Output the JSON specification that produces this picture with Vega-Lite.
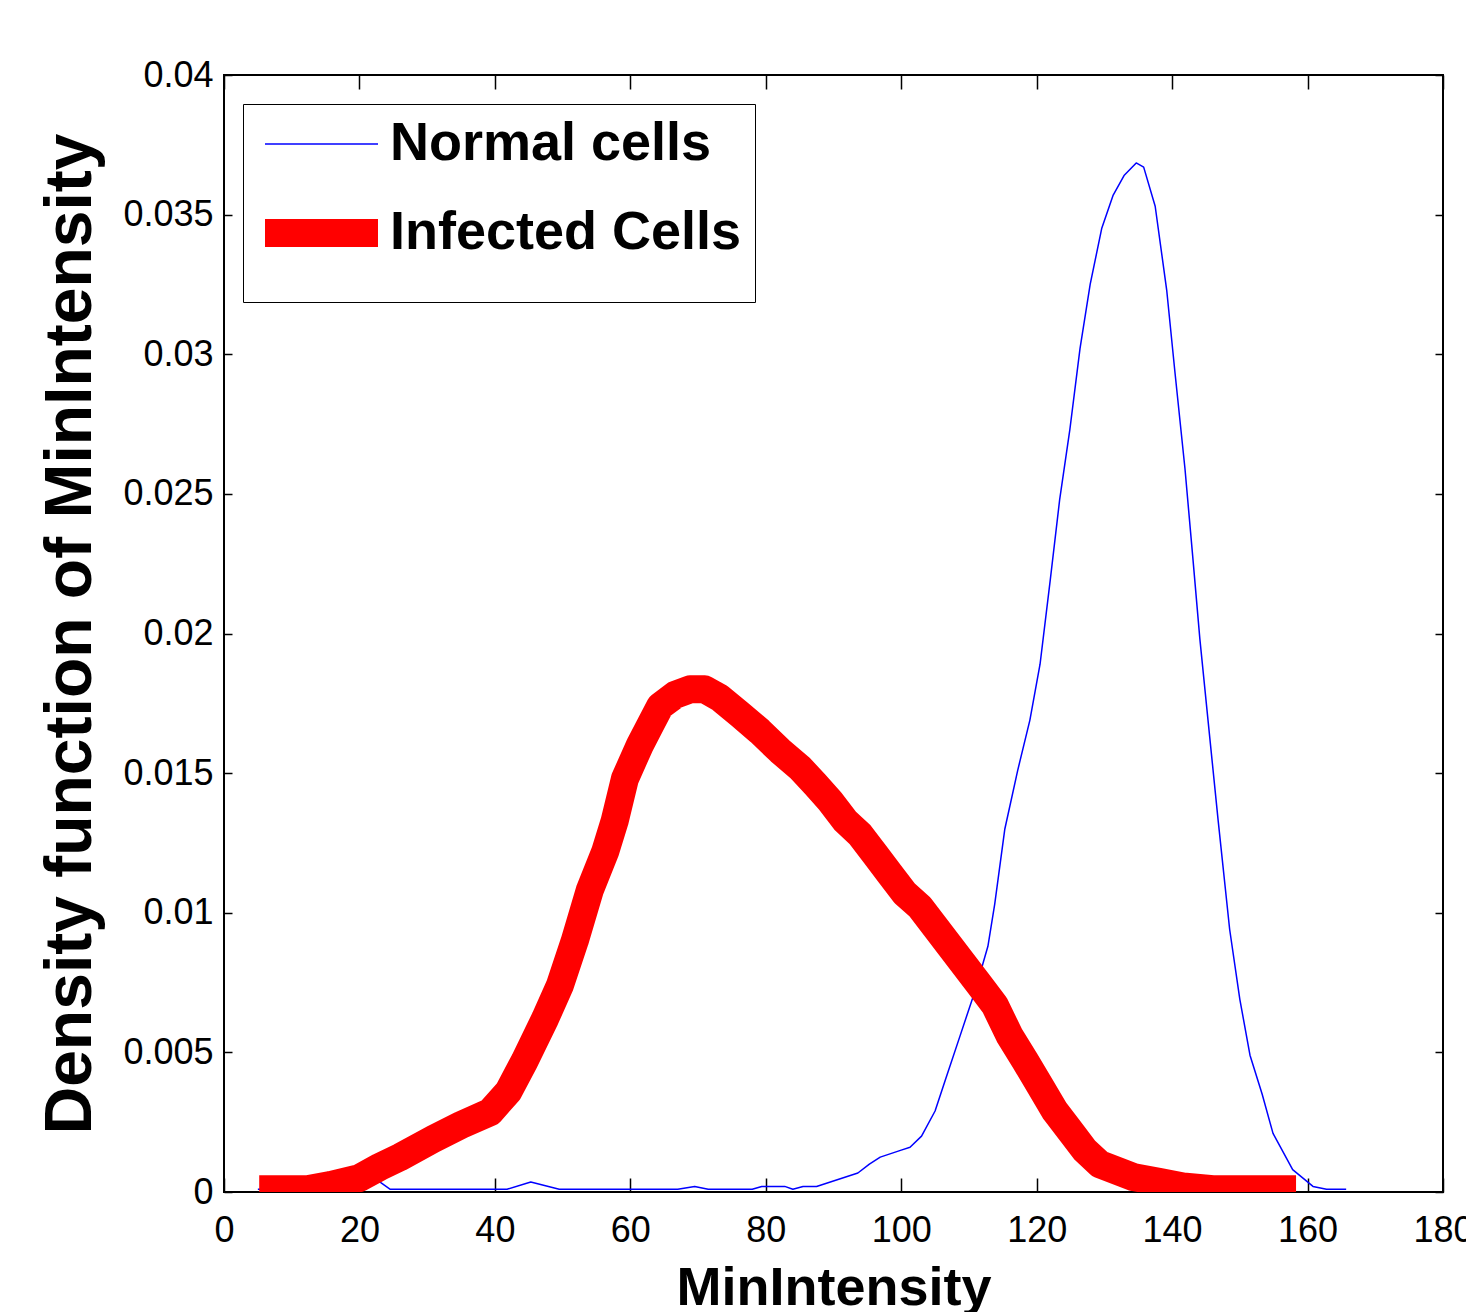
{
  "$schema": "https://vega.github.io/schema/vega-lite/v6.json",
  "width": 1219,
  "height": 1117,
  "autosize": {"type": "none"},
  "padding": {"left": 224, "top": 75, "right": 23, "bottom": 120},
  "background": "white",
  "config": {
    "view": {"stroke": "black", "strokeWidth": 2},
    "axis": {"grid": false, "domain": false, "tickColor": "black", "tickWidth": 1.5, "labelColor": "black", "labelFont": "Liberation Sans", "labelFontSize": 36, "titleColor": "black", "labelFlush": false}
  },
  "data": {"values": [
    {"series": "Normal cells", "x": 5, "y": 0.0001},
    {"series": "Normal cells", "x": 12, "y": 0.0001},
    {"series": "Normal cells", "x": 18, "y": 0.0003},
    {"series": "Normal cells", "x": 21, "y": 0.0005},
    {"series": "Normal cells", "x": 23, "y": 0.00036},
    {"series": "Normal cells", "x": 24.5, "y": 0.0001},
    {"series": "Normal cells", "x": 41.8, "y": 0.0001},
    {"series": "Normal cells", "x": 45.3, "y": 0.00036},
    {"series": "Normal cells", "x": 49.5, "y": 0.0001},
    {"series": "Normal cells", "x": 67, "y": 0.0001},
    {"series": "Normal cells", "x": 69.5, "y": 0.0002},
    {"series": "Normal cells", "x": 71.5, "y": 0.0001},
    {"series": "Normal cells", "x": 78, "y": 0.0001},
    {"series": "Normal cells", "x": 79.4, "y": 0.0002},
    {"series": "Normal cells", "x": 82.8, "y": 0.0002},
    {"series": "Normal cells", "x": 84, "y": 0.0001},
    {"series": "Normal cells", "x": 85.5, "y": 0.0002},
    {"series": "Normal cells", "x": 87.5, "y": 0.0002},
    {"series": "Normal cells", "x": 93.6, "y": 0.00068},
    {"series": "Normal cells", "x": 95.3, "y": 0.001},
    {"series": "Normal cells", "x": 96.9, "y": 0.00125},
    {"series": "Normal cells", "x": 100, "y": 0.0015},
    {"series": "Normal cells", "x": 101.3, "y": 0.0016},
    {"series": "Normal cells", "x": 103, "y": 0.002},
    {"series": "Normal cells", "x": 105, "y": 0.0029},
    {"series": "Normal cells", "x": 106.5, "y": 0.004},
    {"series": "Normal cells", "x": 108.7, "y": 0.0056},
    {"series": "Normal cells", "x": 110.9, "y": 0.0072},
    {"series": "Normal cells", "x": 112.8, "y": 0.0088},
    {"series": "Normal cells", "x": 113.8, "y": 0.0103},
    {"series": "Normal cells", "x": 115.3, "y": 0.013},
    {"series": "Normal cells", "x": 117.2, "y": 0.0151},
    {"series": "Normal cells", "x": 119, "y": 0.0169},
    {"series": "Normal cells", "x": 120.5, "y": 0.0189},
    {"series": "Normal cells", "x": 122, "y": 0.0219},
    {"series": "Normal cells", "x": 123.4, "y": 0.0248},
    {"series": "Normal cells", "x": 124.9, "y": 0.0273},
    {"series": "Normal cells", "x": 126.4, "y": 0.0302},
    {"series": "Normal cells", "x": 127.9, "y": 0.0325},
    {"series": "Normal cells", "x": 129.6, "y": 0.0345},
    {"series": "Normal cells", "x": 131.3, "y": 0.0357},
    {"series": "Normal cells", "x": 132.9, "y": 0.0364},
    {"series": "Normal cells", "x": 134.7, "y": 0.03685},
    {"series": "Normal cells", "x": 135.8, "y": 0.0367},
    {"series": "Normal cells", "x": 137.5, "y": 0.0353},
    {"series": "Normal cells", "x": 139.2, "y": 0.0323},
    {"series": "Normal cells", "x": 140.4, "y": 0.0294},
    {"series": "Normal cells", "x": 141.9, "y": 0.0259},
    {"series": "Normal cells", "x": 143.1, "y": 0.0226},
    {"series": "Normal cells", "x": 144.1, "y": 0.0198},
    {"series": "Normal cells", "x": 145.3, "y": 0.0169},
    {"series": "Normal cells", "x": 146.8, "y": 0.0133},
    {"series": "Normal cells", "x": 148.5, "y": 0.0094},
    {"series": "Normal cells", "x": 150, "y": 0.0069},
    {"series": "Normal cells", "x": 151.5, "y": 0.0049},
    {"series": "Normal cells", "x": 153.3, "y": 0.0035},
    {"series": "Normal cells", "x": 154.9, "y": 0.0021},
    {"series": "Normal cells", "x": 157.8, "y": 0.0008},
    {"series": "Normal cells", "x": 160.8, "y": 0.0002},
    {"series": "Normal cells", "x": 162.8, "y": 0.0001},
    {"series": "Normal cells", "x": 165.7, "y": 0.0001},
    {"series": "Infected Cells", "x": 5.2, "y": 0.0001},
    {"series": "Infected Cells", "x": 12.3, "y": 0.0001},
    {"series": "Infected Cells", "x": 15.7, "y": 0.00025},
    {"series": "Infected Cells", "x": 20, "y": 0.0005},
    {"series": "Infected Cells", "x": 23, "y": 0.0009},
    {"series": "Infected Cells", "x": 26, "y": 0.00125},
    {"series": "Infected Cells", "x": 30.9, "y": 0.0019},
    {"series": "Infected Cells", "x": 35, "y": 0.0024},
    {"series": "Infected Cells", "x": 39.3, "y": 0.00286},
    {"series": "Infected Cells", "x": 42, "y": 0.0036},
    {"series": "Infected Cells", "x": 44.4, "y": 0.0047},
    {"series": "Infected Cells", "x": 47.4, "y": 0.0062},
    {"series": "Infected Cells", "x": 49.6, "y": 0.0074},
    {"series": "Infected Cells", "x": 51.8, "y": 0.009},
    {"series": "Infected Cells", "x": 54, "y": 0.0108},
    {"series": "Infected Cells", "x": 56.3, "y": 0.0122},
    {"series": "Infected Cells", "x": 57.7, "y": 0.0133},
    {"series": "Infected Cells", "x": 59.2, "y": 0.0148},
    {"series": "Infected Cells", "x": 61.4, "y": 0.016},
    {"series": "Infected Cells", "x": 62.9, "y": 0.0167},
    {"series": "Infected Cells", "x": 64.4, "y": 0.0174},
    {"series": "Infected Cells", "x": 66.6, "y": 0.0178},
    {"series": "Infected Cells", "x": 68.8, "y": 0.018},
    {"series": "Infected Cells", "x": 71, "y": 0.018},
    {"series": "Infected Cells", "x": 73.2, "y": 0.0177},
    {"series": "Infected Cells", "x": 76.2, "y": 0.0171},
    {"series": "Infected Cells", "x": 79.1, "y": 0.0165},
    {"series": "Infected Cells", "x": 82.1, "y": 0.0158},
    {"series": "Infected Cells", "x": 85, "y": 0.0152},
    {"series": "Infected Cells", "x": 87.3, "y": 0.0146},
    {"series": "Infected Cells", "x": 89.5, "y": 0.014},
    {"series": "Infected Cells", "x": 91.7, "y": 0.0133},
    {"series": "Infected Cells", "x": 93.9, "y": 0.0128},
    {"series": "Infected Cells", "x": 96.1, "y": 0.0121},
    {"series": "Infected Cells", "x": 98.3, "y": 0.0114},
    {"series": "Infected Cells", "x": 100.5, "y": 0.0107},
    {"series": "Infected Cells", "x": 102.8, "y": 0.0102},
    {"series": "Infected Cells", "x": 105, "y": 0.0095},
    {"series": "Infected Cells", "x": 107.2, "y": 0.0088},
    {"series": "Infected Cells", "x": 109.4, "y": 0.0081},
    {"series": "Infected Cells", "x": 111.6, "y": 0.0074},
    {"series": "Infected Cells", "x": 113.8, "y": 0.0067},
    {"series": "Infected Cells", "x": 116, "y": 0.0056},
    {"series": "Infected Cells", "x": 118.3, "y": 0.0047},
    {"series": "Infected Cells", "x": 120.5, "y": 0.0038},
    {"series": "Infected Cells", "x": 122.7, "y": 0.0029},
    {"series": "Infected Cells", "x": 124.9, "y": 0.0022},
    {"series": "Infected Cells", "x": 127.1, "y": 0.0015},
    {"series": "Infected Cells", "x": 129.3, "y": 0.001},
    {"series": "Infected Cells", "x": 134.2, "y": 0.00054},
    {"series": "Infected Cells", "x": 138.2, "y": 0.00036},
    {"series": "Infected Cells", "x": 141.6, "y": 0.0002},
    {"series": "Infected Cells", "x": 146, "y": 0.0001},
    {"series": "Infected Cells", "x": 158.3, "y": 0.0001}
  ]},
  "layer": [
    {
      "transform": [{"filter": "datum.series === 'Normal cells'"}],
      "mark": {"type": "line", "clip": true, "strokeJoin": "round"},
      "encoding": {
        "x": {"field": "x", "type": "quantitative", "scale": {"domain": [0, 180], "nice": false, "zero": false},
          "axis": {"orient": "bottom", "values": [0, 20, 40, 60, 80, 100, 120, 140, 160, 180], "tickSize": -14, "labelPadding": 35,
            "title": "MinIntensity", "titleFont": "Liberation Sans", "titleFontSize": 54, "titleFontWeight": "bold", "titleY": 112, "titleBaseline": "alphabetic"}},
        "y": {"field": "y", "type": "quantitative", "scale": {"domain": [0, 0.04], "nice": false},
          "axis": {"orient": "left", "values": [0, 0.005, 0.01, 0.015, 0.02, 0.025, 0.03, 0.035, 0.04], "format": "~g", "tickSize": -8, "labelPadding": 19,
            "title": "Density function of MinIntensity", "titleFont": "Liberation Sans", "titleFontSize": 66, "titleFontWeight": "bold", "titleX": -134, "titleBaseline": "alphabetic"}},
        "color": {"field": "series", "type": "nominal",
          "scale": {"domain": ["Normal cells", "Infected Cells"], "range": ["#0000ff", "#ff0000"]},
          "legend": {"orient": "none", "legendX": 19, "legendY": 29, "title": null, "symbolType": "M-4.346,0H4.346", "symbolSize": 676,
            "symbolOffset": 38.5, "labelOffset": 41.5, "rowPadding": 6, "padding": 13, "strokeColor": "black", "fillColor": "white",
            "labelFont": "Liberation Sans", "labelFontSize": 54, "labelFontWeight": "bold", "labelColor": "black", "labelLimit": 0}},
        "strokeWidth": {"field": "series", "type": "nominal",
          "scale": {"domain": ["Normal cells", "Infected Cells"], "range": [1.5, 28]},
          "legend": {"orient": "none", "legendX": 19, "legendY": 29, "title": null, "symbolType": "M-4.346,0H4.346", "symbolSize": 676,
            "symbolOffset": 38.5, "labelOffset": 41.5, "rowPadding": 6, "padding": 13, "strokeColor": "black", "fillColor": "white",
            "labelFont": "Liberation Sans", "labelFontSize": 54, "labelFontWeight": "bold", "labelColor": "black", "labelLimit": 0}}
      }
    },
    {
      "transform": [{"filter": "datum.series === 'Infected Cells'"}],
      "mark": {"type": "line", "clip": true, "strokeJoin": "round"},
      "encoding": {
        "x": {"field": "x", "type": "quantitative",
          "axis": {"orient": "top", "values": [0, 20, 40, 60, 80, 100, 120, 140, 160, 180], "tickSize": -14, "labels": false, "title": null}},
        "y": {"field": "y", "type": "quantitative",
          "axis": {"orient": "right", "values": [0, 0.005, 0.01, 0.015, 0.02, 0.025, 0.03, 0.035, 0.04], "tickSize": -8, "labels": false, "title": null}},
        "color": {"field": "series", "type": "nominal"},
        "strokeWidth": {"field": "series", "type": "nominal"}
      }
    }
  ],
  "resolve": {"axis": {"x": "independent", "y": "independent"}}
}
